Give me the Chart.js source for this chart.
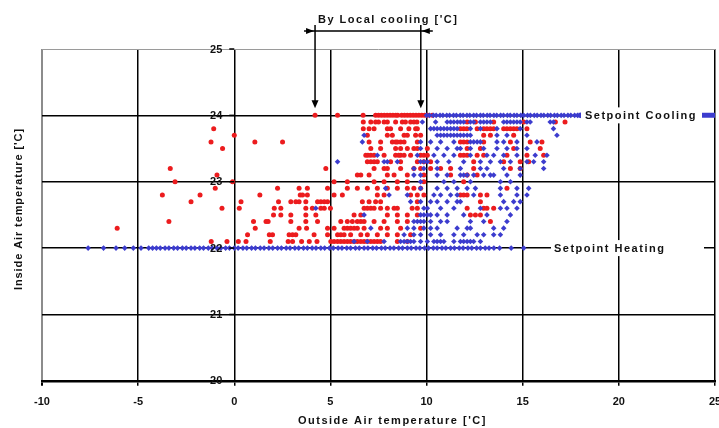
<!DOCTYPE html>
<html>
<head>
<meta charset="utf-8">
<script src="https://cdn.jsdelivr.net/npm/chart.js@4.4.1/dist/chart.umd.min.js"></script>
<style>
  html, body { margin: 0; padding: 0; background: #fff; }
  #wrap { width: 719px; height: 428px; }
</style>
</head>
<body>
<div id="wrap"><canvas id="chart"></canvas></div>
<script>
'use strict';

// inside temperature rows (the logger resolution is 0.1 'C)
var yLevels = [24.0, 23.9, 23.8, 23.7, 23.6, 23.5, 23.4, 23.3, 23.2, 23.1, 23.0,
               22.9, 22.8, 22.7, 22.6, 22.5, 22.4, 22.3, 22.2, 22.1, 22.0];

// outside temperatures per row
var redX = [
  [4.2, 5.37, 6.7, 7.35, 7.5, 7.65, 7.8, 7.95, 8.1, 8.25, 8.4, 8.5, 8.7, 8.85, 9.0, 9.15, 9.3, 9.45, 9.6, 9.75, 9.9, 10.05, 10.3],
  [6.71, 7.1, 7.35, 7.5, 7.79, 7.96, 8.39, 8.74, 8.9, 9.17, 9.34, 9.5, 12.11, 12.54, 13.49, 15.05, 16.7, 17.2],
  [-1.07, 6.71, 7.01, 7.27, 7.96, 8.13, 8.65, 9.08, 9.43, 9.52, 11.76, 11.93, 12.1, 12.63, 12.97, 13.14, 13.32, 13.49, 14.01, 14.18, 14.36, 14.53, 14.7, 15.22],
  [0.0, 6.92, 7.96, 8.22, 8.83, 9.0, 9.43, 9.69, 12.97, 13.32, 14.53],
  [-1.21, 1.07, 2.51, 7.01, 7.61, 8.22, 8.39, 8.48, 8.65, 8.83, 9.52, 11.76, 11.93, 12.11, 12.97, 14.36, 15.39, 16.0],
  [-0.61, 7.1, 7.61, 8.39, 8.65, 9.0, 9.34, 9.52, 10.04, 12.11, 12.8, 14.53, 15.91],
  [6.84, 6.95, 7.1, 7.27, 7.79, 8.39, 8.55, 8.65, 8.83, 9.17, 9.69, 9.86, 10.04, 11.76, 11.93, 12.11, 12.63, 12.97, 14.18, 15.22, 16.09],
  [6.92, 7.1, 7.27, 7.44, 8.13, 8.65, 9.52, 9.86, 10.21, 12.45, 14.01, 14.87, 15.31],
  [-3.33, 4.76, 7.27, 7.79, 7.96, 8.65, 9.34, 9.69, 10.21, 10.73, 11.25, 12.45, 14.36, 14.87],
  [-0.9, 6.4, 6.58, 7.01, 7.96, 8.31, 9.0, 9.86, 11.25, 12.11, 12.63],
  [-3.08, -0.09, 5.19, 5.88, 7.27, 7.79, 8.48, 9.0, 9.86, 11.93],
  [-0.99, 2.25, 3.37, 3.8, 4.85, 5.88, 6.4, 6.92, 7.44, 7.96, 8.48, 9.0, 9.34, 9.69, 14.18],
  [-3.74, -1.78, 1.33, 3.43, 3.55, 3.8, 5.19, 5.62, 7.44, 7.79, 9.17, 9.52, 9.86, 11.76, 11.93, 12.11, 12.8, 13.14],
  [-2.25, 0.35, 2.3, 2.94, 3.2, 3.37, 3.72, 4.33, 4.5, 4.68, 4.85, 6.66, 7.01, 7.35, 7.61, 9.52, 12.8],
  [-0.64, 0.26, 2.08, 2.42, 3.72, 4.06, 4.5, 4.68, 5.0, 6.75, 6.92, 7.1, 7.27, 7.61, 7.96, 8.31, 8.48, 9.25, 9.52, 12.11, 12.97, 13.14, 13.49],
  [2.04, 2.42, 2.94, 3.72, 4.24, 6.23, 6.58, 7.96, 8.48, 9.0, 9.52, 12.28, 12.54, 12.8],
  [-3.4, 1.0, 1.65, 1.76, 2.94, 3.72, 4.33, 5.54, 5.88, 6.14, 6.4, 6.58, 6.75, 7.27, 7.79, 8.48, 9.0, 13.32],
  [-6.09, 1.09, 3.37, 3.76, 4.85, 5.19, 5.71, 5.88, 6.05, 6.23, 6.4, 6.75, 7.61, 7.96, 8.65, 9.69],
  [0.69, 1.82, 1.99, 2.85, 3.03, 3.2, 4.15, 4.85, 5.37, 5.54, 5.71, 6.05, 6.58, 6.92, 7.44, 7.96, 8.48, 9.17],
  [-1.2, -0.38, 0.21, 0.61, 1.87, 2.8, 3.03, 3.5, 3.9, 4.3, 5.02, 5.19, 5.37, 5.54, 5.71, 5.88, 6.05, 6.23, 6.4, 6.58, 6.75, 6.92, 7.1, 7.27, 7.44, 7.61, 8.48, 9.0],
  []
];

var blueX = [
  [10.0, 10.15, 10.35, 10.5, 10.7, 10.85, 11.05, 11.2, 11.4, 11.55, 11.75, 11.9, 12.1, 12.25, 12.45, 12.6, 12.8, 12.95, 13.15, 13.3, 13.5, 13.65, 13.85, 14.0,
   14.2, 14.35, 14.55, 14.7, 14.9, 15.05, 15.25, 15.4, 15.6, 15.75, 15.95, 16.1, 16.3, 16.45, 16.65, 16.8, 17.0, 17.15, 17.35, 17.5, 17.7, 17.85, 18.0],
  [9.78, 10.47, 11.07, 11.25, 11.42, 11.6, 11.76, 11.93, 12.28, 12.45, 12.8, 12.97, 13.14, 13.32, 14.01, 14.18, 14.36, 14.53, 14.7, 14.87, 15.22, 15.39, 16.43, 16.6],
  [10.21, 10.38, 10.55, 10.73, 10.9, 11.07, 11.25, 11.42, 11.59, 12.28, 12.8, 13.66, 14.87, 16.6],
  [6.75, 10.55, 10.73, 10.9, 11.07, 11.25, 11.42, 11.59, 11.76, 11.93, 12.11, 12.28, 13.66, 14.18, 15.22, 16.78],
  [6.66, 9.69, 10.21, 10.73, 11.42, 12.28, 12.45, 12.63, 12.8, 13.66, 14.01, 14.7, 15.74],
  [9.69, 10.55, 11.07, 11.59, 11.76, 12.28, 12.97, 13.66, 14.18, 14.7, 15.22],
  [7.44, 9.52, 10.38, 10.9, 11.42, 12.28, 13.14, 13.49, 14.01, 14.7, 15.65, 16.26],
  [5.37, 7.79, 7.96, 8.48, 9.69, 9.86, 10.04, 10.55, 11.16, 11.93, 12.8, 13.32, 13.84, 14.36, 15.22, 15.57, 16.09],
  [9.34, 9.86, 10.55, 11.76, 12.8, 13.14, 14.01, 14.87, 16.09],
  [9.34, 9.69, 10.55, 11.07, 11.76, 11.93, 12.11, 12.45, 12.97, 13.32, 13.49, 14.18, 14.87],
  [9.69, 10.9, 11.42, 12.28, 13.84, 14.36],
  [7.87, 9.69, 10.55, 11.07, 11.59, 12.11, 12.54, 13.84, 14.7, 15.31],
  [8.05, 9.0, 10.38, 10.73, 11.25, 11.59, 12.45, 13.84, 14.7, 15.22],
  [9.17, 9.69, 10.21, 10.55, 11.07, 11.59, 11.76, 14.01, 14.53, 14.87],
  [4.24, 9.86, 10.04, 10.73, 11.42, 12.8, 13.84, 14.18, 14.7],
  [6.75, 9.69, 9.86, 10.04, 10.21, 10.55, 11.07, 11.93, 13.14, 14.36],
  [9.34, 9.52, 9.69, 9.86, 10.21, 10.73, 11.07, 12.28, 12.97, 14.18],
  [7.1, 9.0, 9.34, 9.86, 10.21, 10.55, 11.59, 12.11, 12.28, 13.49, 14.01],
  [8.83, 9.34, 9.69, 10.21, 10.73, 11.42, 11.93, 12.63, 12.97, 13.49, 13.84],
  [6.23, 6.92, 7.79, 8.65, 8.83, 9.0, 9.17, 9.34, 9.69, 10.04, 10.38, 10.55, 10.73, 10.9, 11.42, 11.76, 11.93, 12.11, 12.28, 12.45, 12.8],
  [-7.6, -6.8, -6.15, -5.7, -5.25, -4.85, -4.45, -4.25, -4.05, -3.85, -3.6, -3.4, -3.15, -2.95, -2.7, -2.5, -2.25, -2.05, -1.8, -1.6, -1.35, -1.15,
   -0.9, -0.7, -0.45, -0.25, 0.0, 0.2, 0.45, 0.65, 0.9, 1.1, 1.35, 1.55, 1.8, 2.0, 2.25, 2.45, 2.7, 2.9, 3.15, 3.35, 3.6, 3.8, 4.05, 4.25,
   4.5, 4.7, 4.95, 5.15, 5.4, 5.6, 5.85, 6.05, 6.3, 6.5, 6.75, 6.95, 7.2, 7.4, 7.65, 7.85, 8.1, 8.3, 8.55, 8.75, 9.0, 9.2, 9.45, 9.65, 9.9,
   10.1, 10.35, 10.55, 10.8, 11.0, 11.25, 11.45, 11.7, 11.9, 12.15, 12.35, 12.6, 12.8, 13.05, 13.25, 13.5, 13.8, 14.4, 15.05]
];

var setpointCooling = 24;
var setpointHeating = 22;
var localCooling = [4.2, 9.7];   // band marked by the arrows at the top

var xTicks = [-10, -5, 0, 5, 10, 15, 20, 25];
var yTicks = [20, 21, 22, 23, 24, 25];

var FONT = '"Liberation Sans", Arial, sans-serif';
var RED = 'rgb(236, 28, 30)';
var BLUE = 'rgb(60, 60, 206)';


var toPoints = function(rows){
  var points = [];
  yLevels.forEach((y, i) => {
    rows[i].forEach(x => { points.push({x: x, y: y}); });
  });
  return points;
};


var drawArrowHead = function(ctx, tx, ty, dir){
  // dir: 'down', 'left', 'right'
  ctx.beginPath();
  if (dir === 'down') {
    ctx.moveTo(tx, ty); ctx.lineTo(tx - 3.5, ty - 8); ctx.lineTo(tx + 3.5, ty - 8);
  } else if (dir === 'right') {
    ctx.moveTo(tx, ty); ctx.lineTo(tx - 8, ty - 3); ctx.lineTo(tx - 8, ty + 3);
  } else {
    ctx.moveTo(tx, ty); ctx.lineTo(tx + 8, ty - 3); ctx.lineTo(tx + 8, ty + 3);
  }
  ctx.closePath();
  ctx.fill();
};


var overlay = {
  id: 'overlay',
  afterDatasetsDraw: function(chart){
    var ctx = chart.ctx;
    var xs = chart.scales.x;
    var ys = chart.scales.y;
    var x0 = xs.getPixelForValue(0);

    ctx.save();
    ctx.fillStyle = '#111';
    ctx.strokeStyle = '#000';

    // y tick labels sit on the x = 0 line
    ctx.font = 'bold 11px ' + FONT;
    ctx.textAlign = 'right';
    ctx.textBaseline = 'middle';
    ctx.lineWidth = 1.5;
    yTicks.forEach(v => {
      var py = ys.getPixelForValue(v);
      ctx.fillText(String(v), x0 - 12, py + 0.5);
      ctx.beginPath();
      ctx.moveTo(x0 - 5, py);
      ctx.lineTo(x0, py);
      ctx.stroke();
    });

    ctx.letterSpacing = '1.5px';
    ctx.textAlign = 'left';

    // setpoint labels
    var pyC = ys.getPixelForValue(setpointCooling);
    ctx.fillStyle = '#fff';
    ctx.fillRect(581, pyC - 8, 121, 16);
    ctx.fillStyle = '#111';
    ctx.fillText('Setpoint Cooling', 585, pyC + 0.5);

    var pyH = ys.getPixelForValue(setpointHeating);
    ctx.fillStyle = '#fff';
    ctx.fillRect(551, pyH - 8, 153, 16);
    ctx.fillStyle = '#111';
    ctx.fillText('Setpoint Heating', 554, pyH + 0.5);

    // local cooling band
    var pa = xs.getPixelForValue(localCooling[0]);
    var pb = xs.getPixelForValue(localCooling[1]);
    var tip = pyC - 7;
    ctx.fillStyle = '#000';
    ctx.lineWidth = 1.5;
    ctx.beginPath();
    ctx.moveTo(pa - 11, 31); ctx.lineTo(pb + 12, 31);
    ctx.moveTo(pa, 25); ctx.lineTo(pa, tip - 6);
    ctx.moveTo(pb, 25); ctx.lineTo(pb, tip - 6);
    ctx.stroke();
    drawArrowHead(ctx, pa, tip, 'down');
    drawArrowHead(ctx, pb, tip, 'down');
    drawArrowHead(ctx, pa - 1, 31, 'right');
    drawArrowHead(ctx, pb + 1, 31, 'left');

    ctx.fillStyle = '#111';
    ctx.fillText("By Local cooling ['C]", 318, 20);

    // axis titles
    ctx.fillText("Outside Air temperature ['C]", 298, 421);
    ctx.letterSpacing = '0.9px';
    ctx.translate(19, 209);
    ctx.rotate(-Math.PI / 2);
    ctx.textAlign = 'center';
    ctx.fillText("Inside Air temperature ['C]", 0, 0);
    ctx.restore();
  }
};


var createChart = function(){
  var canvas = document.getElementById('chart');
  return new Chart(canvas, {
    type: 'scatter',
    data: {
      datasets: [{
        label: 'Cooling setpoint',
        data: [{x: 17.9, y: setpointCooling}, {x: 25, y: setpointCooling}],
        showLine: true,
        borderColor: BLUE,
        borderWidth: 5,
        pointRadius: 0,
        order: 3
      }, {
        label: 'Local cooling off',
        data: toPoints(redX),
        pointStyle: 'circle',
        pointRadius: 2.5,
        pointBorderWidth: 0,
        pointBackgroundColor: RED,
        order: 2
      }, {
        label: 'Local cooling on',
        data: toPoints(blueX),
        pointStyle: 'rectRot',
        pointRadius: 2.8,
        pointBorderWidth: 0,
        pointBackgroundColor: BLUE,
        order: 1
      }]
    },
    options: {
      responsive: true,
      maintainAspectRatio: false,
      animation: false,
      events: [],
      layout: { padding: { left: 42, right: 4, top: 49, bottom: 9 } },
      plugins: { legend: { display: false }, tooltip: { enabled: false } },
      scales: {
        x: {
          type: 'linear',
          min: -10,
          max: 25,
          afterBuildTicks: function(scale){ scale.ticks = xTicks.map(v => ({value: v})); },
          afterFit: function(scale){ scale.paddingLeft = 0; scale.paddingRight = 0; },
          ticks: { color: '#111', padding: 10, font: { family: FONT, size: 11, weight: 'bold' } },
          grid: {
            color: c => (c.tick && c.tick.value === -10) ? '#8c8c8c' : '#000',
            lineWidth: c => (c.tick && c.tick.value === -10) ? 2 : 1.5,
            tickLength: 5,
            tickColor: '#000'
          },
          border: { display: true, color: '#000', width: 2.5 }
        },
        y: {
          type: 'linear',
          min: 20,
          max: 25,
          afterBuildTicks: function(scale){ scale.ticks = yTicks.map(v => ({value: v})); },
          ticks: { display: false },
          grid: {
            color: c => (c.tick && c.tick.value === 25) ? '#9a9a9a' : '#000',
            lineWidth: c => (c.tick && c.tick.value === 25) ? 1 : 1.5,
            drawTicks: false
          },
          border: { display: false }
        }
      }
    },
    plugins: [overlay]
  });
};


!function(){
  createChart();
}();
</script>
</body>
</html>
